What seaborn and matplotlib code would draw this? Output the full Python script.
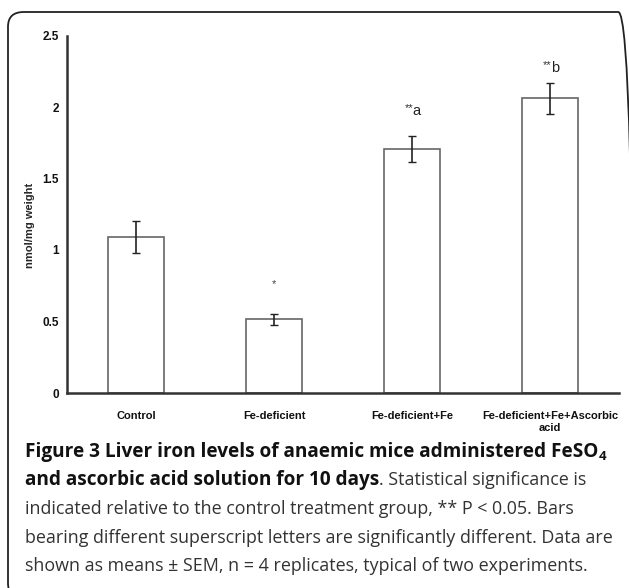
import numpy as np
import pandas as pd
import matplotlib
matplotlib.use('Agg')
import matplotlib.pyplot as plt
import seaborn as sb
from matplotlib.patches import FancyBboxPatch

# data
groups = ['Control', 'Fe-deficient', 'Fe-deficient+Fe', 'Fe-deficient+Fe+Ascorbic\nacid']
iron = [1.09, 0.515, 1.705, 2.06]
sem = [0.11, 0.04, 0.09, 0.11]
marks = ['', '', 'a', 'b']
stars = ['', '*', '**', '**']
mark_y = [None, 0.76, 1.97, 2.27]

sb.set_theme(style='white')
plt.rcParams['font.family'] = ['Liberation Sans Narrow', 'Liberation Sans', 'DejaVu Sans']

fig = plt.figure(figsize=(6.29, 5.88), dpi=100)
ax = fig.add_axes([67 / 629, 1 - 393 / 588, 552 / 629, 357.5 / 588])

df = pd.DataFrame({'group': groups, 'iron': iron})
sb.barplot(data=df, x='group', y='iron', ax=ax, width=0.4, color='white',
           edgecolor='#666666', linewidth=1.2, errorbar=None)
ax.errorbar(range(len(groups)), iron, yerr=sem, fmt='none', ecolor='#222222',
            elinewidth=1.2, capsize=3, capthick=1.0)

# significance marks
for i, (s, m, y) in enumerate(zip(stars, marks, mark_y)):
    if y is None:
        continue
    if m:
        ax.text(i + 0.005, y, m, ha='left', va='center', fontsize=10.5, color='#222222')
        ax.text(i + 0.012, y + 0.025, s, ha='right', va='center', fontsize=8, color='#333333')
    else:
        ax.text(i, y, s, ha='center', va='center', fontsize=8, color='#444444')

ax.set_xlim(-0.5, 3.5)
ax.set_ylim(0, 2.5)
ax.set_yticks([0, 0.5, 1, 1.5, 2, 2.5])
ax.set_yticklabels(['0', '0.5', '1', '1.5', '2', '2.5'], fontsize=8.5, fontweight='bold')
ax.set_xticks(range(len(groups)))
ax.set_xticklabels(groups, fontsize=8, fontweight='bold')
ax.set_xticks([0.5, 1.5, 2.5, 3.5], minor=True)
ax.tick_params(axis='x', which='major', length=0, pad=13, colors='#111111')
ax.tick_params(axis='x', which='minor', direction='out', length=4, width=1.2, color='#333333')
ax.tick_params(axis='y', direction='out', length=4, width=1.2, color='#333333', pad=2, colors='#111111')
ax.tick_params(axis='y', which='major', color='#333333')
ax.set_xlabel('')
ax.set_ylabel('nmol/mg weight', fontsize=8, fontweight='bold')
ax.yaxis.set_label_coords(-0.058, 0.47)
for side in ['top', 'right']:
    ax.spines[side].set_visible(False)
for side in ['left', 'bottom']:
    ax.spines[side].set_color('#333333')
    ax.spines[side].set_linewidth(1.8)
ax.set_facecolor('white')

# rounded frame
frame = FancyBboxPatch((8 / 629, -10 / 588), 626 / 629, 586 / 588,
                       boxstyle='round,pad=0,rounding_size=0.025',
                       transform=fig.transFigure, facecolor='none',
                       edgecolor='#222222', linewidth=1.3, clip_on=False)
fig.patches.append(frame)

# caption
cap_font = ['Open Sans', 'DejaVu Sans']
fs_bold = 13.7
fs_reg = 12.9
x0 = 25 / 629
lines = [
    [('Figure 3 Liver iron levels of anaemic mice administered FeSO', 'bold'), ('4', 'sub')],
    [('and ascorbic acid solution for 10 days', 'bold'), ('. Statistical significance is', 'normal')],
    [('indicated relative to the control treatment group, ** P < 0.05. Bars', 'normal')],
    [('bearing different superscript letters are significantly different. Data are', 'normal')],
    [('shown as means \u00b1 SEM, n = 4 replicates, typical of two experiments.', 'normal')],
]
line_y = [452, 480, 509, 538, 566]
fig.canvas.draw()
renderer = fig.canvas.get_renderer()
for parts, yp in zip(lines, line_y):
    x = x0
    y = 1 - yp / 588
    for txt, kind in parts:
        if kind == 'sub':
            t = fig.text(x, y - 5 / 588, txt, fontsize=fs_bold * 0.7, fontweight='bold',
                         family=cap_font, va='center', ha='left', color='#111111')
        elif kind == 'bold':
            t = fig.text(x, y, txt, fontsize=fs_bold, fontweight='bold', family=cap_font,
                         va='center', ha='left', color='#111111')
        else:
            t = fig.text(x, y, txt, fontsize=fs_reg, family=cap_font,
                         va='center', ha='left', color='#333333')
        bb = t.get_window_extent(renderer)
        x = bb.x1 / fig.bbox.width

fig.savefig('out.png', dpi=100, facecolor='white')
